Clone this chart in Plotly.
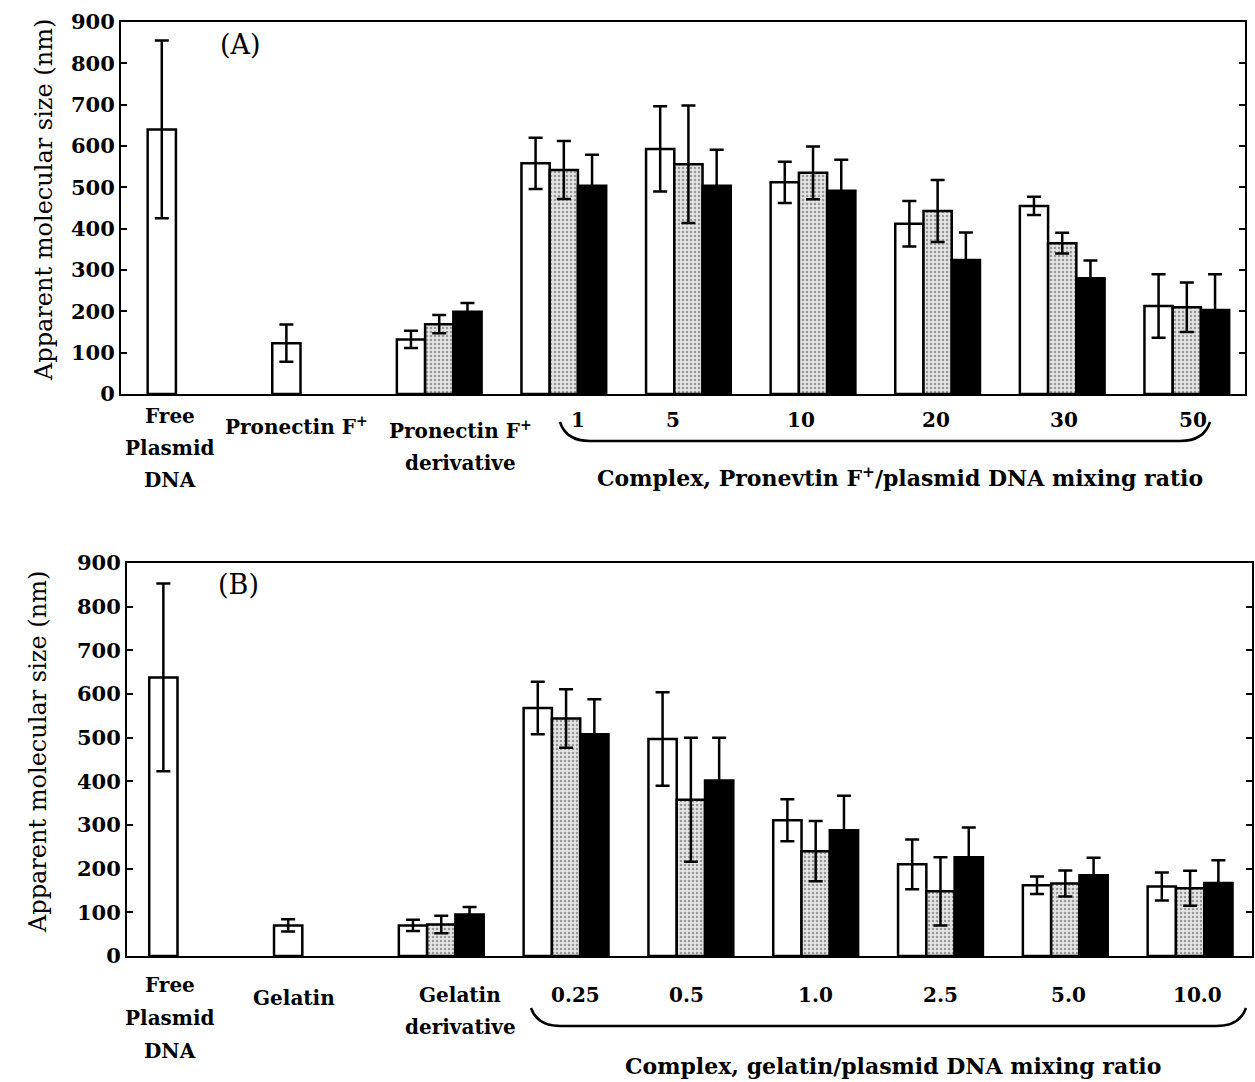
import plotly.graph_objects as go

W, H = 1255, 1082

# ---------------- data ----------------
A_categories = ["Free<br>Plasmid<br>DNA", "Pronectin F<sup>+</sup>", "Pronectin F<sup>+</sup><br>derivative",
                "1", "5", "10", "20", "30", "50"]
A_white = [640, 123, 132, 558, 593, 512, 412, 455, 213]
A_white_err = [215, 45, 21, 62, 103, 50, 55, 22, 77]
A_gray = [None, None, 169, 542, 556, 535, 443, 365, 210]
A_gray_err = [0, 0, 22, 70, 142, 64, 75, 25, 60]
A_black = [None, None, 199, 504, 504, 492, 324, 280, 203]
A_black_err = [0, 0, 21, 75, 87, 75, 67, 43, 87]
A_group_title = "Complex, Pronevtin F<sup>+</sup>/plasmid DNA mixing ratio"

B_categories = ["Free<br>Plasmid<br>DNA", "Gelatin", "Gelatin<br>derivative",
                "0.25", "0.5", "1.0", "2.5", "5.0", "10.0"]
B_white = [638, 70, 70, 568, 497, 311, 210, 162, 159]
B_white_err = [215, 14, 13, 60, 107, 48, 57, 20, 32]
B_gray = [None, None, 72, 544, 358, 240, 148, 166, 155]
B_gray_err = [0, 0, 20, 67, 142, 69, 78, 30, 40]
B_black = [None, None, 95, 508, 402, 288, 226, 185, 167]
B_black_err = [0, 0, 17, 80, 98, 79, 68, 40, 52]
B_group_title = "Complex, gelatin/plasmid DNA mixing ratio"

y_ticks = [0, 100, 200, 300, 400, 500, 600, 700, 800, 900]
y_title = "Apparent molecular size (nm)"

# ---------------- styles / layout ----------------
FONT = "DejaVu Serif"
def px(x, y):
    return x / W, 1 - y / H

# plot areas in pixels (left, top, right, bottom)
AREA_A = (121, 22, 1245, 394)
AREA_B = (127, 563, 1252, 956)

# label pixel positions: (x centre, first line y centre, line height)
A_label_pos = [(170, 416, 32), (296, 426, 32), (460, 430, 33),
               (578, 420, 0), (673, 420, 0), (801, 420, 0), (936, 420, 0), (1064, 420, 0), (1193, 420, 0)]
B_label_pos = [(170, 985, 33), (294, 998, 0), (460, 995, 32),
               (575, 995, 0), (686, 995, 0), (815, 995, 0), (940, 995, 0), (1068, 995, 0), (1197, 995, 0)]

fig = go.Figure()

def add_panel(xa, ya, white, werr, gray, gerr, black, berr):
    n = len(white)
    xs = list(range(n))
    common = dict(xaxis=xa, yaxis=ya, showlegend=False, hoverinfo="skip")
    eb = dict(type="data", visible=True, color="black", thickness=2.5, width=7)
    fig.add_trace(go.Bar(x=xs, y=white, offsetgroup="w",
                         marker=dict(color="white", line=dict(color="black", width=2.5)),
                         error_y=dict(array=werr, **eb), **common))
    fig.add_trace(go.Bar(x=xs, y=gray, offsetgroup="g",
                         marker=dict(color="#e0e0e0", line=dict(color="black", width=2.5),
                                     pattern=dict(shape=".", fgcolor="#4a4a4a", bgcolor="#e4e4e4",
                                                  size=4, solidity=0.3)),
                         error_y=dict(array=gerr, **eb), **common))
    fig.add_trace(go.Bar(x=xs, y=black, offsetgroup="b",
                         marker=dict(color="black", line=dict(color="black", width=2.5)),
                         error_y=dict(array=berr, **eb), **common))

add_panel("x", "y", A_white, A_white_err, A_gray, A_gray_err, A_black, A_black_err)
add_panel("x2", "y2", B_white, B_white_err, B_gray, B_gray_err, B_black, B_black_err)

def xdom(area):
    return [area[0] / W, area[2] / W]
def ydom(area):
    return [1 - area[3] / H, 1 - area[1] / H]

yaxis_style = dict(range=[0, 900], tickvals=y_ticks, ticks="inside", ticklen=6, tickwidth=2,
                   tickcolor="black", showline=True, linecolor="black", linewidth=2,
                   mirror="ticks", showgrid=False, zeroline=False,
                   tickfont=dict(family=FONT, size=21, color="black", weight="bold"),
                   automargin=False)
xaxis_style = dict(showline=True, linecolor="black", linewidth=2, mirror=True,
                   showticklabels=False, ticks="", showgrid=False, zeroline=False, automargin=False)

fig.update_layout(
    width=W, height=H, margin=dict(l=0, r=0, t=0, b=0),
    paper_bgcolor="white", plot_bgcolor="white",
    barmode="group", bargap=0.32, bargroupgap=0,
    xaxis=dict(domain=xdom(AREA_A), range=[-0.554, 8.467], anchor="y", **xaxis_style),
    yaxis=dict(domain=ydom(AREA_A), anchor="x", **yaxis_style),
    xaxis2=dict(domain=xdom(AREA_B), range=[-0.518, 8.496], anchor="y2", **xaxis_style),
    yaxis2=dict(domain=ydom(AREA_B), anchor="x2", **yaxis_style),
    font=dict(family=FONT, color="black"),
)

annotations = []
def txt(text, x, y, size=20, bold=True, angle=0):
    xp, yp = px(x, y)
    annotations.append(dict(text=text, x=xp, y=yp, xref="paper", yref="paper",
                            xanchor="center", yanchor="middle", showarrow=False, textangle=angle,
                            font=dict(family=FONT, size=size, color="black",
                                      weight="bold" if bold else "normal")))

for cats, pos in ((A_categories, A_label_pos), (B_categories, B_label_pos)):
    for lab, (cx, cy, lh) in zip(cats, pos):
        for i, line in enumerate(lab.split("<br>")):
            txt(line, cx, cy + i * lh)

txt(A_group_title, 900, 477, size=22)
txt(B_group_title, 893, 1066, size=22)
txt("(A)", 240, 45, size=27, bold=False)
txt("(B)", 238, 584, size=27, bold=False)
txt(y_title, 44, 200, size=24, bold=False, angle=-90)
txt(y_title, 38, 752, size=24, bold=False, angle=-90)
fig.update_layout(annotations=annotations)

# braces under the mixing-ratio labels
def brace(x1, x2, ytip, ybot, r):
    p = [px(x1, ytip), px(x1 + r * 0.2, ybot), px(x1 + r, ybot),
         px(x2 - r, ybot), px(x2 - r * 0.2, ybot), px(x2, ytip)]
    path = (f"M {p[0][0]},{p[0][1]} Q {p[1][0]},{p[1][1]} {p[2][0]},{p[2][1]} "
            f"L {p[3][0]},{p[3][1]} Q {p[4][0]},{p[4][1]} {p[5][0]},{p[5][1]}")
    return dict(type="path", path=path, xref="paper", yref="paper",
                line=dict(color="black", width=2.5))

fig.update_layout(shapes=[brace(560, 1210, 422, 441, 30), brace(531, 1246, 1008, 1026, 30)])

fig.write_html("out.html")
